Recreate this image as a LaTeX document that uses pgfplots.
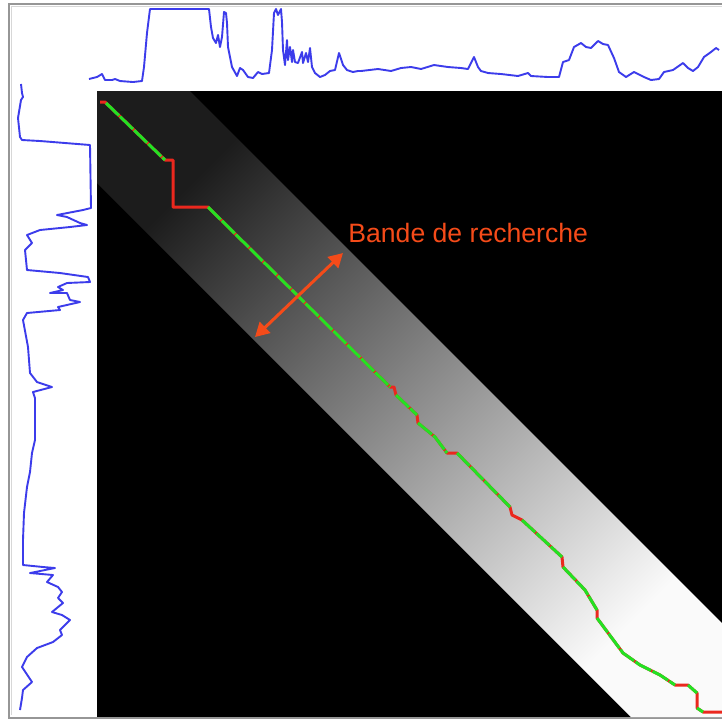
\documentclass[border=0pt]{standalone}
\usepackage{pgfplots}
\pgfplotsset{compat=1.18}
\usepackage{fontspec}
\setmainfont{Liberation Sans}
\usetikzlibrary{arrows.meta}
\definecolor{sigblue}{RGB}{60,60,235}
\definecolor{pathred}{RGB}{235,40,30}
\definecolor{pathgreen}{RGB}{35,225,35}
\definecolor{annot}{RGB}{245,75,25}
\begin{document}
\begin{tikzpicture}
\begin{axis}[
  scale only axis, width=361pt, height=360pt,
  xmin=0, xmax=722, ymin=0, ymax=720, y dir=reverse,
  hide axis, clip=true, unbounded coords=jump]
% white background
\addplot[draw=none, fill=white] coordinates {(0,0)(722,0)(722,720)(0,720)} -- cycle;
% frame
\addplot[draw={rgb,255:red,150;green,150;blue,150}, line width=1pt, no marks] coordinates {(740,3.5)(8.5,3.5)(8.5,717.5)(740,717.5)};
\addplot[draw={rgb,255:red,215;green,215;blue,215}, line width=0.6pt, no marks] coordinates {(740,6.5)(11.5,6.5)(11.5,715)};
% black matrix
\addplot[draw=none, fill=black] coordinates {(97,91)(740,91)(740,717)(97,717)} -- cycle;
% search band
\addplot[draw=none, top color={rgb,255:red,28;green,28;blue,28}, bottom color={rgb,255:red,250;green,250;blue,250}, shading angle=45]
  coordinates {(97,91)(190,91)(722,623)(722,717)(631,717)(97,183)} -- cycle;
% warping path (red underneath)
\addplot[pathred, line width=1.5pt, no marks, line join=round] coordinates {
(100,102)(105,102)(165,160)(173,160)(173,207)(208,207)(390,387)(394,387)(396,395)(417,415)(418,423)(435,437)(447,453)(457,453)(510,507)(512,515)(522,520)(562,557)(563,567)(585,590)(597,610)(597,618)(623,653)(640,665)(660,675)(675,685)(688,685)(697,693)(697,708)(703,712)(722,712)};
% diagonal parts (green)
\addplot[pathgreen, line width=1.5pt, no marks, dash pattern=on 9pt off 0.8pt] coordinates {
(106,103)(165,160)(165,nan)
(208,207)(390,387)(390,nan)
(396,395)(417,415)(417,nan)
(418,423)(435,437)(447,453)(447,nan)
(457,453)(510,507)(510,nan)
(522,520)(562,557)(562,nan)
(563,567)(585,590)(597,610)(597,nan)
(597,618)(623,653)(640,665)(660,675)(675,685)(675,nan)
(688,685)(697,693)(697,nan)
(697,708)(703,712)};
% top signal
\addplot[sigblue, line width=0.95pt, no marks, line join=round] coordinates {
(89,79)(97,77)(102,74)(105,80)(112,80)(115,79)(120,81)(133,82)(142,81)(144,67)(147,33)(150,9)(209,9)(211,27)(213,38)(216,43)(218,35)(220,47)(222,37)(224,12)(226,13)(227,23)(228,47)(232,67)(237,76)(240,68)(243,70)(248,77)(253,78)(258,72)(262,74)(269,73)(272,50)(274,13)(276,9)(278,15)(281,9)(282,22)(283,50)(285,65)(287,40)(288,60)(290,47)(292,62)(293,50)(295,62)(298,63)(302,52)(303,63)(306,53)(308,62)(310,48)(312,67)(315,73)(320,77)(325,75)(330,71)(335,70)(339,53)(343,65)(347,70)(353,72)(358,71)(361,71)(378,69)(391,71)(401,68)(411,67)(421,69)(434,65)(448,67)(461,68)(468,69)(474,57)(478,67)(481,71)(488,73)(501,74)(518,76)(528,73)(531,76)(548,77)(559,77)(563,62)(569,60)(574,47)(581,43)(586,47)(591,48)(598,41)(603,44)(608,45)(614,58)(619,72)(626,77)(634,72)(644,77)(651,80)(659,79)(664,72)(673,70)(683,63)(688,68)(693,71)(698,67)(704,57)(711,52)(716,48)(719,50)};
% left signal
\addplot[sigblue, line width=0.95pt, no marks, line join=round] coordinates {
(21,84)(22,93)(23,97)(21,100)(18,118)(20,137)(22,140)(40,141)(90,145)(91,208)(83,210)(57,215)(67,217)(80,223)(87,225)(70,227)(40,230)(27,235)(32,243)(25,250)(27,270)(60,273)(88,277)(90,282)(67,283)(58,287)(63,290)(50,293)(67,293)(70,300)(80,302)(58,307)(60,310)(27,313)(23,320)(28,347)(30,373)(37,382)(52,387)(33,392)(35,398)(35,440)(32,453)(30,472)(27,487)(24,513)(23,540)(23,565)(43,567)(55,568)(30,573)(53,575)(47,582)(58,587)(62,592)(58,598)(63,603)(52,612)(62,615)(70,620)(60,630)(62,635)(53,642)(37,648)(27,657)(22,667)(32,682)(23,690)(22,698)(20,710)};
% annotation arrow
\addplot[annot, line width=1.5pt, no marks, {Triangle[length=7pt,width=7.5pt]}-{Triangle[length=7pt,width=7.5pt]}] coordinates {(255,337)(343,253)};
\node[anchor=base west, text=annot, font=\fontsize{13.3}{15}\selectfont, inner sep=0pt] at (axis cs:348,242) {Bande de recherche};
\end{axis}
\end{tikzpicture}
\end{document}
